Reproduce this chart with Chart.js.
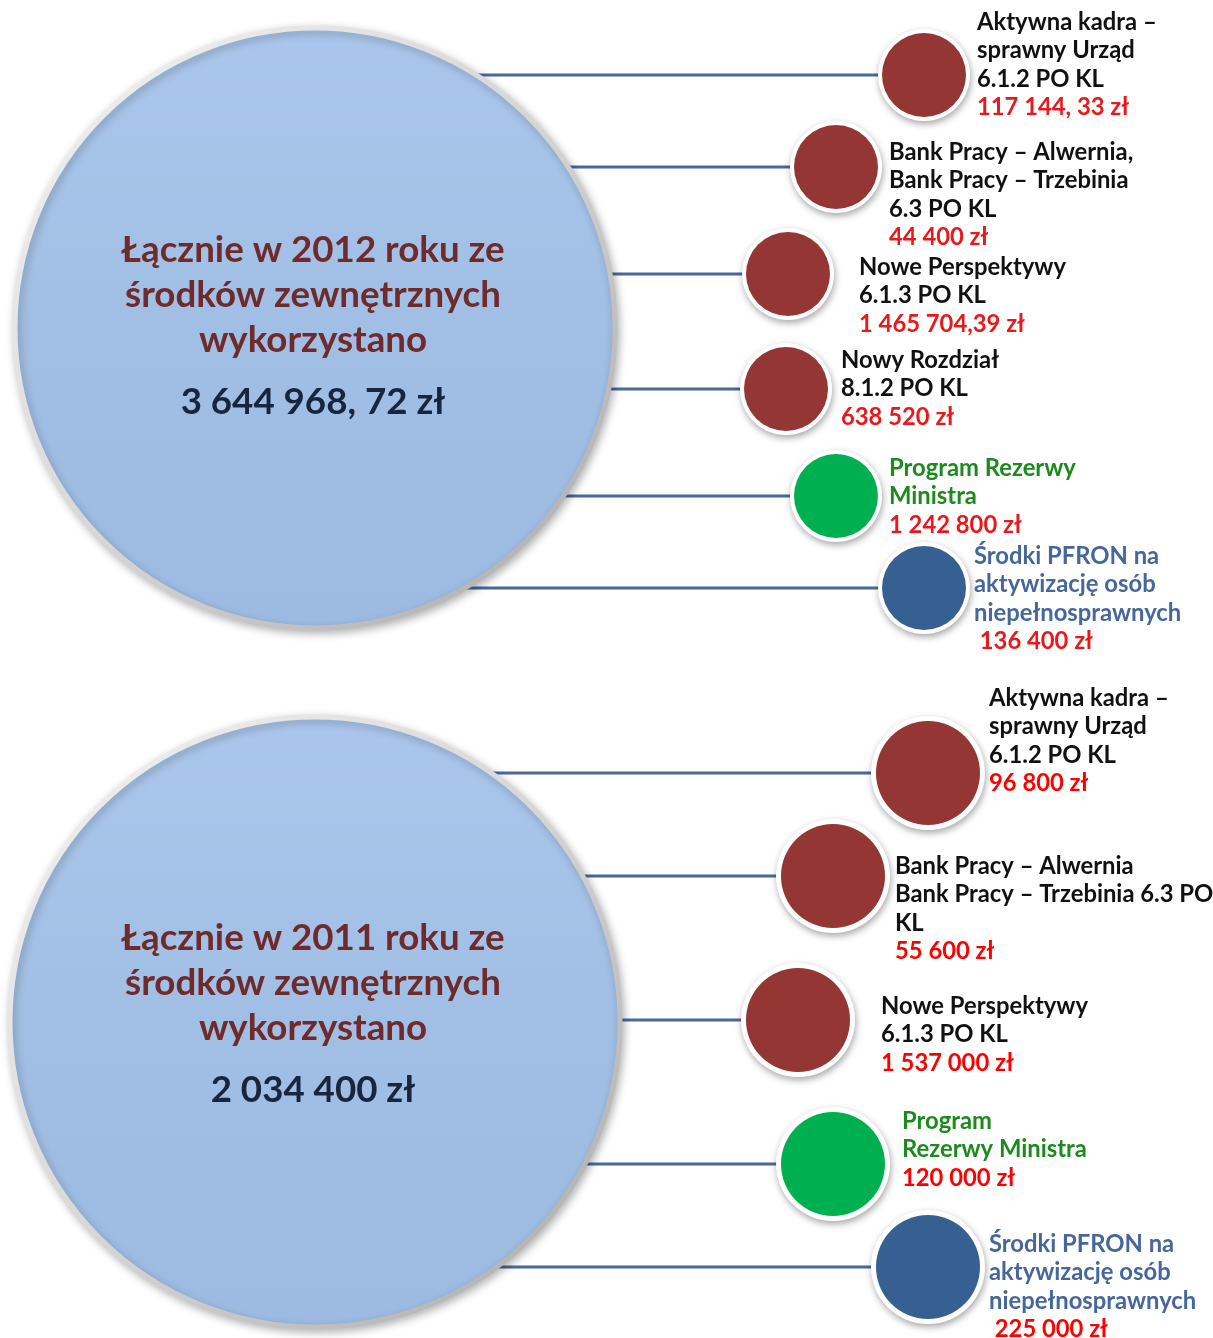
<!DOCTYPE html>
<html lang="pl">
<head>
<meta charset="utf-8">
<title>Środki zewnętrzne 2011-2012</title>
<script src="https://cdn.jsdelivr.net/npm/chart.js@4.4.1/dist/chart.umd.min.js"></script>
<style>
  html, body { margin: 0; padding: 0; background: #fff; }
  #wrap { width: 1213px; height: 1338px; }
</style>
</head>
<body>
<div id="wrap"><canvas id="chart" width="1213" height="1338"></canvas></div>
<script>
// ---- dane ----
const years = ['2012', '2011'];
const totalTitles = [
  ['Łącznie w 2012 roku ze', 'środków zewnętrznych', 'wykorzystano'],
  ['Łącznie w 2011 roku ze', 'środków zewnętrznych', 'wykorzystano']
];
const totals = ['3 644 968, 72 zł', '2 034 400 zł'];

const programs2012 = [
  ['Aktywna kadra –', 'sprawny Urząd', '6.1.2 PO KL'],
  ['Bank Pracy – Alwernia,', 'Bank Pracy – Trzebinia', '6.3 PO KL'],
  ['Nowe Perspektywy', '6.1.3 PO KL'],
  ['Nowy Rozdział', '8.1.2 PO KL'],
  ['Program Rezerwy', 'Ministra'],
  ['Środki PFRON na', 'aktywizację osób', 'niepełnosprawnych']
];
const amounts2012 = ['117 144, 33 zł', '44 400 zł', '1 465 704,39 zł', '638 520 zł', '1 242 800 zł', ' 136 400 zł'];
const sources2012 = ['POKL', 'POKL', 'POKL', 'POKL', 'Rezerwa', 'PFRON'];

const programs2011 = [
  ['Aktywna kadra –', 'sprawny Urząd', '6.1.2 PO KL'],
  ['Bank Pracy – Alwernia', 'Bank Pracy – Trzebinia 6.3 PO', 'KL'],
  ['Nowe Perspektywy', '6.1.3 PO KL'],
  ['Program', 'Rezerwy Ministra'],
  ['Środki PFRON na', 'aktywizację osób', 'niepełnosprawnych']
];
const amounts2011 = ['96 800 zł', '55 600 zł', '1 537 000 zł', '120 000 zł', ' 225 000 zł'];
const sources2011 = ['POKL', 'POKL', 'POKL', 'Rezerwa', 'PFRON'];

// ---- układ (pozycje w jednostkach osi) ----
const hubs = [{ x: 315, y: 328, r: 300, ty: 250, vy: 402 }, { x: 315, y: 1022, r: 305, ty: 938, vy: 1090 }];
const spots = [
  [{ x: 924, y: 75 }, { x: 836, y: 167 }, { x: 788, y: 274 }, { x: 786, y: 389 }, { x: 836, y: 496 }, { x: 924, y: 588 }],
  [{ x: 928, y: 773 }, { x: 833, y: 876 }, { x: 798, y: 1020 }, { x: 833, y: 1164 }, { x: 928, y: 1267 }]
];
const textSpots = [
  [{ x: 977, y: 22 }, { x: 889, y: 152 }, { x: 859, y: 267 }, { x: 841, y: 360 }, { x: 889, y: 468 }, { x: 974, y: 556 }],
  [{ x: 989, y: 698 }, { x: 895, y: 866 }, { x: 881, y: 1006 }, { x: 902, y: 1121 }, { x: 989, y: 1244 }]
];
const dotRadius = [42, 52];
const ringWidth = [4, 5];

// ---- style ----
const fillColors = { POKL: '#943634', Rezerwa: '#00b050', PFRON: '#376092' };
const labelColors = { POKL: '#111111', Rezerwa: '#1c8a1c', PFRON: '#46679b' };
const amountColors = ['#e8191c', '#ff0000'];
const FONT = 'Lato, "Open Sans", sans-serif';

const programs = [programs2012, programs2011];
const amounts = [amounts2012, amounts2011];
const sources = [sources2012, sources2011];

// linie łączące
const connectorSets = [];
spots.forEach((group, g) => {
  group.forEach(p => {
    connectorSets.push({
      type: 'line',
      showLine: true,
      data: [{ x: hubs[g].x, y: p.y }, { x: p.x, y: p.y }],
      borderColor: '#4a689c',
      borderWidth: 3,
      pointRadius: 0,
      order: 10,
      clip: false
    });
  });
});

const dotData = [], dotR = [], dotRing = [], dotFill = [];
spots.forEach((group, g) => {
  group.forEach((p, i) => {
    dotData.push({ x: p.x, y: p.y });
    dotR.push(dotRadius[g]);
    dotRing.push(dotRadius[g] + ringWidth[g]);
    dotFill.push(fillColors[sources[g][i]]);
  });
});

function hubPixel(chart, i) {
  return {
    x: chart.scales.x.getPixelForValue(hubs[i].x),
    y: chart.scales.y.getPixelForValue(hubs[i].y),
    r: hubs[i].r
  };
}

const shadowPlugin = {
  id: 'shadow',
  beforeDatasetDraw(chart, args) {
    const s = chart.data.datasets[args.index].shadow;
    if (!s) return;
    const ctx = chart.ctx;
    ctx.save();
    ctx.shadowColor = s.color;
    ctx.shadowBlur = s.blur;
    ctx.shadowOffsetX = s.dx;
    ctx.shadowOffsetY = s.dy;
  },
  afterDatasetDraw(chart, args) {
    if (chart.data.datasets[args.index].shadow) chart.ctx.restore();
  }
};

function fitFont(ctx, text, width, weight) {
  ctx.font = weight + ' 40px ' + FONT;
  return 40 * width / ctx.measureText(text).width;
}

const textPlugin = {
  id: 'texts',
  afterDatasetsDraw(chart) {
    const ctx = chart.ctx;
    const sx = chart.scales.x, sy = chart.scales.y;
    ctx.save();
    ctx.textBaseline = 'middle';

    // teksty w dużych kołach
    const bigSize = fitFont(ctx, 'Łącznie w 2012 roku ze', 383, 'bold');
    years.forEach((yr, g) => {
      const h = hubs[g];
      const cx = sx.getPixelForValue(h.x) - 2;
      ctx.textAlign = 'center';
      ctx.font = 'bold ' + bigSize.toFixed(1) + 'px ' + FONT;
      ctx.fillStyle = '#6f2a2b';
      totalTitles[g].forEach((line, k) => {
        ctx.fillText(line, cx, sy.getPixelForValue(h.ty + k * 45));
      });
      ctx.fillStyle = '#17253f';
      ctx.fillText(totals[g], cx, sy.getPixelForValue(h.vy));
    });

    // opisy małych kół
    const smallSize = fitFont(ctx, 'Aktywna kadra –', 180, 'bold');
    ctx.textAlign = 'left';
    ctx.font = 'bold ' + smallSize.toFixed(1) + 'px ' + FONT;
    textSpots.forEach((group, g) => {
      group.forEach((t, i) => {
        const x = sx.getPixelForValue(t.x);
        let row = t.y;
        ctx.fillStyle = labelColors[sources[g][i]];
        programs[g][i].forEach(line => {
          ctx.fillText(line, x, sy.getPixelForValue(row));
          row += 28.5;
        });
        ctx.fillStyle = amountColors[g];
        ctx.fillText(amounts[g][i], x, sy.getPixelForValue(row));
      });
    });
    ctx.restore();
  }
};

new Chart(document.getElementById('chart'), {
  type: 'scatter',
  data: {
    datasets: [
      ...connectorSets,
      {
        // duże koła – sumy roczne
        data: hubs.map(h => ({ x: h.x, y: h.y })),
        pointRadius: hubs.map(h => h.r),
        pointBorderWidth: 5,
        pointBackgroundColor(c) {
          const ch = c.chart;
          if (c.type !== 'data' || !ch.scales || !ch.scales.y) return '#a2bfe4';
          const p = hubPixel(ch, c.dataIndex);
          if (!isFinite(p.x) || !isFinite(p.y)) return '#a2bfe4';
          const gr = ch.ctx.createLinearGradient(0, p.y - p.r, 0, p.y + p.r);
          gr.addColorStop(0, '#aac6ec');
          gr.addColorStop(0.5, '#a1bfe4');
          gr.addColorStop(1, '#9dbbe2');
          return gr;
        },
        pointBorderColor(c) {
          const ch = c.chart;
          if (c.type !== 'data' || !ch.scales || !ch.scales.y) return '#cccccc';
          const p = hubPixel(ch, c.dataIndex);
          if (!isFinite(p.x) || !isFinite(p.y)) return '#cccccc';
          const gr = ch.ctx.createLinearGradient(p.x - p.r, p.y - p.r, p.x + p.r, p.y + p.r);
          gr.addColorStop(0, '#f4f4f4');
          gr.addColorStop(0.5, '#d6d6d6');
          gr.addColorStop(1, '#a9a9a9');
          return gr;
        },
        shadow: { color: 'rgba(0,0,0,0.25)', blur: 8, dx: 2, dy: 3 },
        order: 8,
        clip: false
      },
      {
        // białe obwódki małych kół
        data: dotData,
        pointRadius: dotRing,
        pointBackgroundColor: '#ffffff',
        pointBorderWidth: 0,
        shadow: { color: 'rgba(0,0,0,0.35)', blur: 7, dx: 1, dy: 3 },
        order: 6,
        clip: false
      },
      {
        // małe koła – programy
        data: dotData,
        pointRadius: dotR,
        pointBackgroundColor: dotFill,
        pointBorderWidth: 0,
        order: 4,
        clip: false
      }
    ]
  },
  options: {
    responsive: false,
    animation: false,
    events: [],
    layout: { padding: 0, autoPadding: false },
    plugins: { legend: { display: false }, tooltip: { enabled: false } },
    scales: {
      x: { type: 'linear', min: 0, max: 1213, display: false },
      y: { type: 'linear', min: 0, max: 1338, reverse: true, display: false }
    }
  },
  plugins: [shadowPlugin, textPlugin]
});
</script>
</body>
</html>
